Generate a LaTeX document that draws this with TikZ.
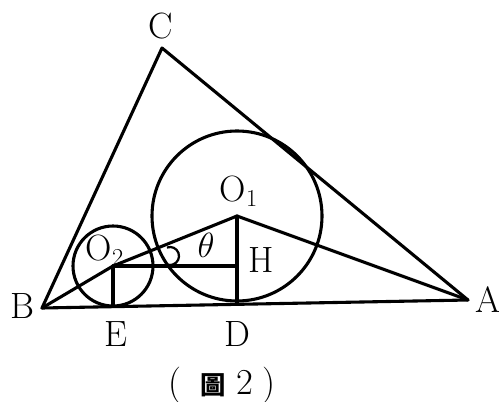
\documentclass[tikz,border=0pt]{standalone}
\usepackage{fontspec}
\newfontfamily\cjkfont{Noto Sans CJK TC}
\usetikzlibrary{calc}

\begin{document}
\begin{tikzpicture}[
          x=0.025cm, y=-0.025cm,
          edge/.style={line width=2.2pt, line cap=round, line join=round},
          thin edge/.style={line width=1.6pt},
          label/.style={font=\fontsize{26}{30}\selectfont, inner sep=0pt}
      ]
          \useasboundingbox (0,0) rectangle (499,401);
          % points of the figure
          \coordinate (B) at (42,308);
          \coordinate (A) at (468,300);
          \coordinate (C) at (162,48);
          \coordinate (O1) at (237,216);
          \coordinate (O2) at (113,266);
          \coordinate (D) at (237,303);
          \coordinate (E) at (113,306);
          \coordinate (H) at (237,266);
          % triangle, circles, segments
          \draw[edge] (B) -- (C) -- (A) -- cycle;
          \draw[edge] (O1) circle[radius=85];
          \draw[edge] (O2) circle[radius=40];
          \draw[edge] (B) -- (O2) -- (O1) -- (A);
          \draw[edge] (O1) -- (D);
          \draw[edge] (O2) -- (E);
          \draw[edge] (O2) -- (H);
          \draw[thin edge] (170,256) ++(-110:9) arc[start angle=-110, end angle=110, radius=9];
          % labels
          \node[label] (lC) at (161,26) {C};
          \node[label] (lB) at (22,306) {B};
          \node[label] (lA) at (488,300) {A};
          \node[label] (lE) at (116,334) {E};
          \node[label] (lD) at (237,334) {D};
          \node[label] (lH) at (261,260) {H};
          \node[label] (lO1) at (239,191) {O$_1$};
          \node[label] (lO2) at (105,250) {O$_2$};
          \node[label] (lth) at (206,245) {$\theta$};
          \node[label] (cap) at (222,385) {(\hspace{0.5em}{\cjkfont\fontsize{18}{20}\selectfont\bfseries 圖}\hspace{0.3em}2\hspace{0.25em})};
      \end{tikzpicture}
\end{document}
